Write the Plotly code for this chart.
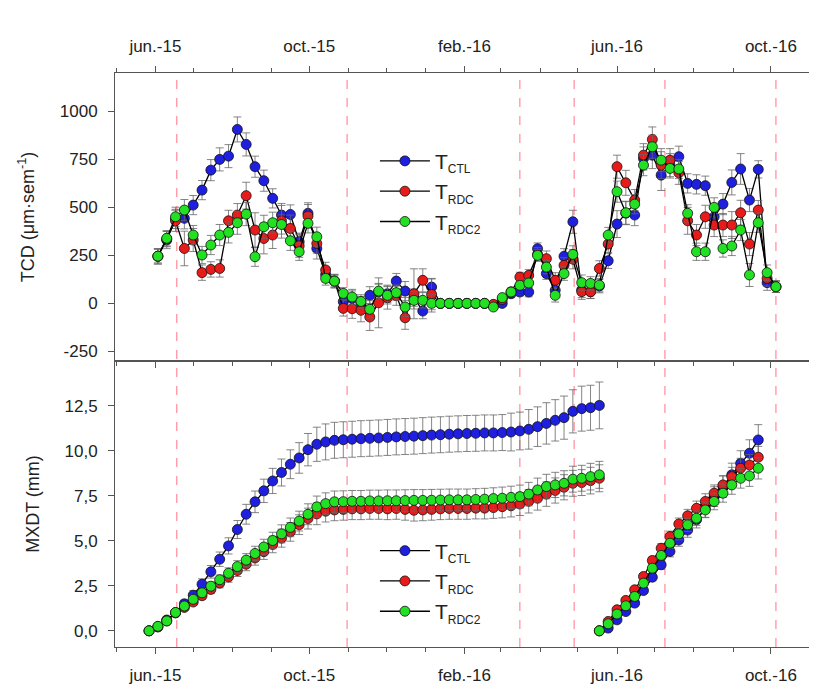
import plotly.graph_objects as go
import pandas as pd

# ---------------- data ----------------
tcd_start, tcd_n = "2015-06-03", 71
mx1_start, mx1_n = "2015-05-27", 52
mx2_start, mx2_n = "2016-05-18", 19

tick_dates = ["2015-06-01", "2015-10-01", "2016-02-01", "2016-06-01", "2016-10-01"]
tick_labels = ["jun.-15", "oct.-15", "feb.-16", "jun.-16", "oct.-16"]
event_dates = ["2015-06-18", "2015-10-31", "2016-03-16", "2016-04-28", "2016-07-09", "2016-10-05"]

tcd_ticks = [-250, 0, 250, 500, 750, 1000]
tcd_tick_labels = ["-250", "0", "250", "500", "750", "1000"]
mx_ticks = [0, 2.5, 5, 7.5, 10, 12.5]
mx_tick_labels = ["0,0", "2,5", "5,0", "7,5", "10,0", "12,5"]

tcd_ctl = [245, 330, 440, 443, 512, 590, 694, 750, 767, 906, 828, 712, 639, 547, 460, 463, 321, 469, 286, 150, 116, 9,
           25, 0, 42, 60, 50, 116, 64, 30, -40, 85,
           0, 0, 0, 0, 0, 0,
           -10, 0, 50, 59, 59, 285, 155, 68, 245, 425,
           70, 61, 90, 222, 413, 470, 460, 755, 772, 668, 720, 764, 625, 620, 613, 451, 517, 630, 700, 538, 698, 108, 87]
tcd_rdc = [245, 335, 430, 286, 330, 160, 177, 182, 430, 460, 561, 382, 338, 356, 430, 390, 300, 455, 312, 174, 116, -26,
           -28, -36, -71, 3, 30, 40, -75, 50, 120, 47,
           0, 0, 0, 0, 0, 0,
           -5, 20, 60, 137, 146, 255, 233, 120, 198, 230,
           61, 60, 182, 309, 712, 628, 538, 772, 854, 720, 746, 680, 430, 356, 451, 408, 408, 408, 472, 309, 486, 130, 87]
tcd_rdc2 = [246, 339, 451, 486, 356, 252, 304, 356, 370, 420, 465, 243, 399, 420, 411, 326, 269, 417, 347, 130, 116, 52,
            33, 10, -31, 64, 42, 56, -19, 16, 16, 0,
            0, 0, 0, 0, 0, 0,
            -19, 30, 59, 94, 106, 250, 189, 42, 155, 255,
            108, 104, 95, 356, 582, 472, 517, 720, 816, 746, 703, 700, 469, 269, 269, 500, 286, 299, 382, 148, 420, 160, 87]

tcd_ctl_err = [40, 45, 50, 55, 50, 50, 55, 60, 60, 65, 60, 55, 55, 50, 50, 50, 45, 55, 55, 40, 35, 30,
               40, 35, 45, 40, 45, 40, 50, 45, 40, 45,
               5, 5, 5, 5, 5, 5,
               10, 15, 20, 20, 25, 30, 30, 35, 40, 60,
               40, 35, 35, 40, 70, 60, 55, 60, 70, 80, 60, 55, 50, 50, 50, 60, 55, 65, 80, 60, 45, 40, 30]
tcd_rdc_err = [40, 40, 55, 90, 60, 40, 40, 45, 55, 60, 70, 90, 80, 70, 90, 70, 60, 60, 50, 40, 35, 40,
               50, 60, 70, 130, 60, 50, 60, 130, 60, 80,
               5, 5, 5, 5, 5, 5,
               10, 15, 20, 25, 30, 35, 40, 40, 40, 50,
               40, 35, 40, 45, 60, 65, 55, 60, 65, 70, 60, 60, 70, 55, 60, 60, 60, 70, 65, 60, 50, 40, 30]
tcd_rdc2_err = [35, 40, 50, 55, 50, 45, 50, 55, 55, 60, 60, 50, 60, 55, 50, 50, 45, 50, 50, 35, 30, 30,
                40, 35, 45, 40, 45, 40, 50, 45, 40, 45,
                5, 5, 5, 5, 5, 5,
                10, 15, 20, 20, 25, 30, 35, 35, 35, 45,
                40, 35, 35, 40, 55, 60, 50, 55, 60, 60, 50, 50, 45, 45, 45, 50, 45, 50, 55, 60, 50, 40, 30]

mx1_ctl = [0, 0.22, 0.6, 1.0, 1.5, 1.98, 2.59, 3.28, 3.98, 4.72, 5.63, 6.48, 7.17, 7.78, 8.33, 8.8, 9.26, 9.61, 10.07, 10.37, 10.5, 10.59,
           10.62, 10.65, 10.68, 10.7, 10.72, 10.75, 10.78, 10.8, 10.82, 10.85, 10.88, 10.9, 10.93, 10.95, 10.97, 10.98, 11.0, 11.0, 11.02,
           11.05, 11.11, 11.2, 11.35, 11.53, 11.7, 11.85, 12.2, 12.35, 12.4, 12.53]
mx1_rdc = [0, 0.22, 0.55, 1.0, 1.3, 1.6, 1.95, 2.3, 2.65, 3.0, 3.35, 3.7, 4.05, 4.4, 4.8, 5.15, 5.5, 5.9, 6.24, 6.5, 6.65, 6.72,
           6.75, 6.78, 6.78, 6.8, 6.8, 6.78, 6.8, 6.75, 6.7, 6.72, 6.75, 6.78, 6.8, 6.8, 6.8, 6.82, 6.82, 6.85, 6.9,
           6.95, 7.05, 7.2, 7.37, 7.6, 7.8, 7.98, 8.2, 8.24, 8.35, 8.48]
mx1_rdc2 = [0, 0.25, 0.55, 1.02, 1.38, 1.75, 2.11, 2.48, 2.84, 3.2, 3.57, 3.93, 4.3, 4.66, 5.02, 5.39, 5.75, 6.1, 6.48, 6.89, 7.07, 7.17,
            7.18, 7.2, 7.2, 7.22, 7.22, 7.23, 7.23, 7.24, 7.25, 7.25, 7.26, 7.27, 7.28, 7.28, 7.28, 7.3, 7.32, 7.35, 7.37,
            7.42, 7.46, 7.6, 7.83, 8.02, 8.11, 8.2, 8.43, 8.48, 8.57, 8.67]

mx1_ctl_err = [0, 0.05, 0.1, 0.15, 0.2, 0.25, 0.3, 0.35, 0.4, 0.45, 0.5, 0.55, 0.6, 0.65, 0.7, 0.75, 0.8, 0.85, 0.9, 0.95, 1.0, 1.0,
               1.0, 1.0, 1.0, 1.0, 1.0, 1.0, 1.0, 1.0, 1.0, 1.0, 1.0, 1.0, 1.0, 1.0, 1.0, 1.0, 1.0, 1.0, 1.0,
               1.05, 1.05, 1.1, 1.1, 1.15, 1.15, 1.2, 1.2, 1.25, 1.25, 1.3]
mx1_rdc_err = [0, 0.03, 0.06, 0.1, 0.13, 0.16, 0.2, 0.23, 0.26, 0.3, 0.33, 0.36, 0.4, 0.43, 0.46, 0.5, 0.52, 0.55, 0.58, 0.6, 0.6, 0.6,
               0.6, 0.6, 0.6, 0.6, 0.6, 0.6, 0.6, 0.6, 0.6, 0.6, 0.6, 0.6, 0.6, 0.6, 0.6, 0.6, 0.6, 0.6, 0.62,
               0.62, 0.64, 0.65, 0.66, 0.68, 0.7, 0.7, 0.72, 0.72, 0.74, 0.75]
mx1_rdc2_err = [0, 0.03, 0.06, 0.1, 0.13, 0.16, 0.2, 0.23, 0.26, 0.3, 0.33, 0.36, 0.4, 0.43, 0.46, 0.5, 0.52, 0.55, 0.58, 0.6, 0.6, 0.6,
                0.6, 0.6, 0.6, 0.6, 0.6, 0.6, 0.6, 0.6, 0.6, 0.6, 0.6, 0.6, 0.6, 0.6, 0.6, 0.6, 0.6, 0.6, 0.62,
                0.62, 0.64, 0.65, 0.66, 0.68, 0.7, 0.7, 0.72, 0.72, 0.74, 0.75]

mx2_ctl = [0, 0.15, 0.61, 1.07, 1.54, 2.24, 2.98, 3.67, 4.41, 5.05, 5.6, 6.17, 6.81, 7.46, 8.02, 8.67, 9.31, 9.87, 10.61]
mx2_rdc = [0, 0.52, 1.17, 1.69, 2.28, 3.02, 3.91, 4.59, 5.24, 5.94, 6.39, 6.81, 7.19, 7.65, 8.11, 8.57, 9.04, 9.22, 9.65]
mx2_rdc2 = [0, 0.39, 0.93, 1.39, 1.91, 2.65, 3.48, 4.19, 4.87, 5.39, 5.89, 6.26, 6.72, 7.19, 7.65, 8.11, 8.48, 8.61, 9.04]

mx2_ctl_err = [0, 0.05, 0.08, 0.1, 0.12, 0.15, 0.2, 0.25, 0.3, 0.35, 0.4, 0.45, 0.5, 0.55, 0.6, 0.65, 0.7, 0.75, 0.85]
mx2_rdc_err = [0, 0.05, 0.08, 0.1, 0.12, 0.15, 0.2, 0.25, 0.3, 0.33, 0.36, 0.4, 0.43, 0.46, 0.5, 0.52, 0.55, 0.58, 0.6]
mx2_rdc2_err = [0, 0.05, 0.08, 0.1, 0.12, 0.15, 0.2, 0.25, 0.3, 0.33, 0.36, 0.4, 0.43, 0.46, 0.5, 0.52, 0.55, 0.58, 0.6]

sub_style = "<span style='font-size:12px'>{}</span>"
series_names = ["T<sub>" + sub_style.format(s) + "</sub>" for s in ["CTL", "RDC", "RDC2"]]
series_colors = ["#1f1fe0", "#e81b1b", "#22e022"]

# --------------- figure ---------------
tcd_x = pd.date_range(tcd_start, periods=tcd_n, freq="7D")
mx1_x = pd.date_range(mx1_start, periods=mx1_n, freq="7D")
mx2_x = pd.date_range(mx2_start, periods=mx2_n, freq="7D")

fig = go.Figure()

def add(x, y, err, i, xa, ya, legend, show):
    fig.add_trace(go.Scatter(
        x=x, y=y, mode="lines+markers", name=series_names[i],
        xaxis=xa, yaxis=ya, legend=legend, showlegend=show, legendgroup=legend + str(i),
        line=dict(color="black", width=1.3),
        marker=dict(size=10, color=series_colors[i], line=dict(color="#111", width=0.8)),
        error_y=dict(type="data", array=err, visible=True, color="#666", thickness=0.8, width=4),
    ))

tcd_vals = [(tcd_ctl, tcd_ctl_err), (tcd_rdc, tcd_rdc_err), (tcd_rdc2, tcd_rdc2_err)]
mx1_vals = [(mx1_ctl, mx1_ctl_err), (mx1_rdc, mx1_rdc_err), (mx1_rdc2, mx1_rdc2_err)]
mx2_vals = [(mx2_ctl, mx2_ctl_err), (mx2_rdc, mx2_rdc_err), (mx2_rdc2, mx2_rdc2_err)]

for i in range(3):
    add(tcd_x, tcd_vals[i][0], tcd_vals[i][1], i, "x", "y", "legend", True)
for i in range(3):
    add(mx1_x, mx1_vals[i][0], mx1_vals[i][1], i, "x2", "y2", "legend2", True)
for i in range(3):
    add(mx2_x, mx2_vals[i][0], mx2_vals[i][1], i, "x2", "y2", "legend2", False)

for d in event_dates:
    fig.add_shape(type="line", xref="x", yref="paper", x0=d, x1=d, y0=0, y1=1,
                  line=dict(color="rgba(255,90,115,0.85)", width=1, dash="dash"), layer="below")

axcol = "#555"
xrange_ = ["2015-04-30", "2016-11-01"]
split = 0.4983
minor = dict(dtick="M1", tick0="2015-01-01", ticks="outside", ticklen=4, tickcolor=axcol)
tickfont = dict(size=17)

fig.update_layout(
    width=809, height=686,
    margin=dict(l=107, r=7, t=65, b=47),
    plot_bgcolor="white", paper_bgcolor="white",
    font=dict(family="Liberation Sans, Arial", size=15, color="#222"),
    xaxis=dict(domain=[0, 1], anchor="y", side="top", type="date", range=xrange_,
               tickvals=tick_dates, ticktext=tick_labels, ticks="outside", ticklen=6,
               ticklabelstandoff=7, tickfont=tickfont,
               tickcolor=axcol, showline=True, linecolor=axcol, mirror="ticks",
               showgrid=False, zeroline=False, minor=minor),
    xaxis2=dict(domain=[0, 1], anchor="y2", side="bottom", type="date", range=xrange_,
                tickvals=tick_dates, ticktext=tick_labels, ticks="outside", ticklen=6,
                ticklabelstandoff=7, tickfont=tickfont,
                tickcolor=axcol, showline=True, linecolor=axcol, mirror=True,
                showgrid=False, zeroline=False, minor=minor),
    yaxis=dict(domain=[split, 1], anchor="x", range=[-300, 1200],
               tickvals=tcd_ticks, ticktext=tcd_tick_labels, ticks="outside", ticklen=6,
               ticklabelstandoff=7, tickfont=tickfont,
               tickcolor=axcol, showline=True, linecolor=axcol, mirror=True,
               showgrid=False, zeroline=False,
               title=dict(text="TCD (μm·sem<sup>-1</sup>)", font=dict(size=18), standoff=20)),
    yaxis2=dict(domain=[0, split], anchor="x2", range=[-0.9, 15],
                tickvals=mx_ticks, ticktext=mx_tick_labels,
                ticks="outside", ticklen=6, ticklabelstandoff=7, tickfont=tickfont,
                tickcolor=axcol, showline=True, linecolor=axcol,
                mirror=True, showgrid=False, zeroline=False,
                title=dict(text="MXDT (mm)", font=dict(size=18), standoff=20)),
    legend=dict(x=0.374, y=0.882, xanchor="left", yanchor="top", bgcolor="rgba(0,0,0,0)",
                font=dict(size=21), tracegroupgap=0, itemwidth=50),
    legend2=dict(x=0.374, y=0.203, xanchor="left", yanchor="top", bgcolor="rgba(0,0,0,0)",
                 font=dict(size=21), tracegroupgap=0, itemwidth=50),
)

fig.write_html("out.html")
